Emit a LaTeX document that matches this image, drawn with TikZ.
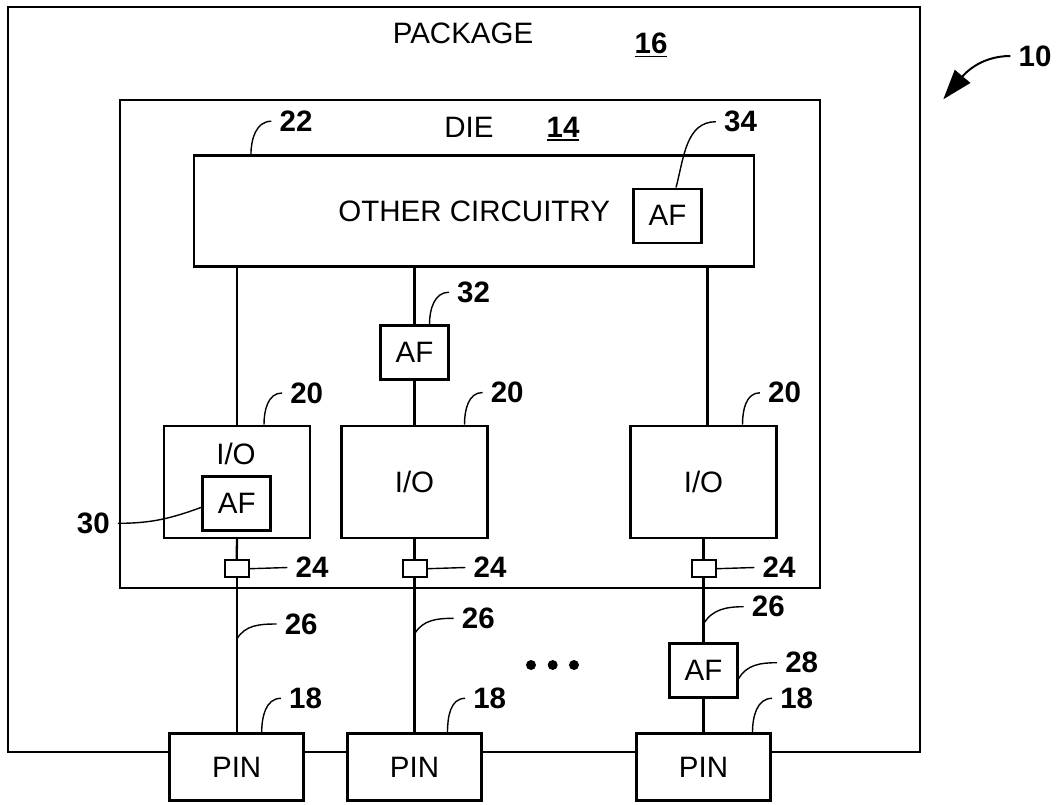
\documentclass[tikz,border=0pt]{standalone}
\usepackage{fontspec}
\setmainfont{Liberation Sans}
\usetikzlibrary{arrows.meta}
\newcommand{\boxfont}{\fontsize{29.5}{33}\selectfont}
\newcommand{\numfont}{\fontsize{29.5}{33}\selectfont\bfseries}
\newcommand{\refnum}[1]{\setbox0\hbox{#1}\rlap{\rule[-4pt]{\wd0}{1.8pt}}\box0}

\begin{document}
\begin{tikzpicture}[
  x=1pt, y=-1pt,
  box/.style={draw, line width=2.5pt, fill=white, inner sep=0pt, font=\boxfont},
  afbox/.style={box, minimum width=68pt, minimum height=54pt},
  iobox/.style={box, minimum width=146pt, minimum height=112pt},
  pinbox/.style={box, minimum width=134pt, minimum height=67pt},
  padbox/.style={box, line width=2pt, minimum width=24pt, minimum height=17pt},
  num/.style={font=\numfont, inner xsep=8pt, inner ysep=0pt},
  plain/.style={font=\boxfont, inner sep=0pt},
  wire/.style={line width=2.3pt},
  leader/.style={line width=1.4pt}
]
\useasboundingbox (0,0) rectangle (1059,804);

% package and die
\node[box, fill=none, minimum width=912pt, minimum height=745pt] (pkg) at (464,379.4) {};
\node[plain] (pkgtext) at (463,33.3) {PACKAGE};
\node[num, anchor=base] (n16) at (651,53.3) {\refnum{16}};
\node[box, fill=none, minimum width=700pt, minimum height=488pt] (die) at (469.8,344.2) {};
\node[plain] (dietext) at (469,127.5) {DIE};
\node[num, anchor=base] (n14) at (563,137) {\refnum{14}};

% blocks on the die
\node[box, minimum width=560pt, minimum height=111pt] (other) at (474.2,211.2) {OTHER CIRCUITRY};
\node[afbox] (af34) at (667.5,215.8) {AF};
\node[afbox] (af32) at (414.5,352.3) {AF};
\node[iobox] (ioL) at (237,481.8) {};
\node[plain] (ioLtext) at (236,454) {I/O};
\node[afbox] (af30) at (236.7,503.3) {AF};
\node[iobox] (ioM) at (414.5,481.8) {I/O};
\node[iobox] (ioR) at (703.5,481.8) {I/O};
\node[padbox] (pad1) at (236.7,568.7) {};
\node[padbox] (pad2) at (414.5,568.7) {};
\node[padbox] (pad3) at (703.5,568.7) {};

% outside the die
\node[afbox] (af28) at (703.5,670.5) {AF};
\node[pinbox] (pin1) at (236.7,767) {PIN};
\node[pinbox] (pin2) at (414.5,767) {PIN};
\node[pinbox] (pin3) at (703.5,767) {PIN};
\foreach \x in {531,552.7,574}
  \fill (\x,665) circle[radius=5pt];

% wires
\draw[wire] (other.south -| ioL.north) -- (ioL.north);
\draw[wire] (other.south -| af32.north) -- (af32.north);
\draw[wire] (af32.south) -- (ioM.north);
\draw[wire] ([xshift=4pt]ioR.north) -- ([xshift=4pt]ioR.north |- other.south);
\foreach \a/\b in {ioL/pad1,pad1/pin1,ioM/pad2,pad2/pin2,ioR/pad3,pad3/af28,af28/pin3}
  \draw[wire] (\a.south) -- (\b.north);

% reference numbers
\node[num] (n10) at (1035,56) {10};
\node[num] (n22) at (296,121.2) {22};
\node[num] (n34) at (740.5,121.7) {34};
\node[num] (n32) at (473.5,292.2) {32};
\node[num] (n20a) at (306.7,393) {20};
\node[num] (n20b) at (507.2,392.5) {20};
\node[num] (n20c) at (784.5,392.8) {20};
\node[num] (n30) at (93.3,523.3) {30};
\node[num] (n24a) at (312,567.5) {24};
\node[num] (n24b) at (490,567.5) {24};
\node[num] (n24c) at (779,567.5) {24};
\node[num] (n26a) at (301.2,624) {26};
\node[num] (n26b) at (478.3,618.3) {26};
\node[num] (n26c) at (768.3,606.7) {26};
\node[num] (n28) at (801.7,662.7) {28};
\node[num] (n18a) at (305.5,698.3) {18};
\node[num] (n18b) at (489.7,698.3) {18};
\node[num] (n18c) at (796.7,698.3) {18};
\coordinate (tip10) at (943.3,99.3);
\coordinate (w26a) at (236.7,639.3);
\coordinate (w26b) at (414.5,634);
\coordinate (w26c) at (703.5,624);

% lead lines
\draw[line width=2pt, -{Triangle[length=30pt,width=20pt]}] (n10.west) to[out=180,in=50] (tip10);
\draw[leader] (n22.west) to[out=180,in=90] ([xshift=58pt]other.north west);
\draw[leader] (n34.west) to[out=180,in=75] ([xshift=8.5pt]af34.north);
\draw[leader] (n32.west) to[out=180,in=90] ([xshift=15pt]af32.north);
\draw[leader] (n20a.west) to[out=180,in=90] ([xshift=27pt]ioL.north);
\draw[leader] (n20b.west) to[out=180,in=90] ([xshift=50pt]ioM.north);
\draw[leader] (n20c.west) to[out=180,in=90] ([xshift=39pt]ioR.north);
\draw[leader] (n30.east) to[out=0,in=200] ([yshift=-4pt]af30.west);
\foreach \a/\b in {pad1/n24a,pad2/n24b,pad3/n24c}
  \draw[leader] (\a.east) -- (\b.west);
\draw[leader] (n26a.west) to[out=180,in=60] (w26a);
\draw[leader] (n26b.west) to[out=180,in=60] (w26b);
\draw[leader] (n26c.west) to[out=180,in=60] (w26c);
\draw[leader] (n28.west) to[out=180,in=60] ([yshift=-8pt]af28.east);
\draw[leader] (n18a.west) to[out=180,in=90] ([xshift=25pt]pin1.north);
\draw[leader] (n18b.west) to[out=180,in=90] ([xshift=33pt]pin2.north);
\draw[leader] (n18c.west) to[out=180,in=90] ([xshift=49pt]pin3.north);
\end{tikzpicture}
\end{document}
